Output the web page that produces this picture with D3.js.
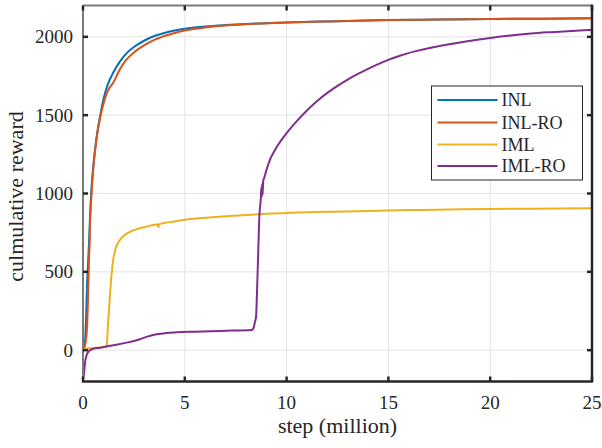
<!DOCTYPE html>
<html><head><meta charset="utf-8">
<script src="https://cdn.jsdelivr.net/npm/d3@7"></script>
<style>html,body{margin:0;padding:0;background:#fff;}svg{display:block;}</style>
</head><body>
<script>
// ---- data (step in million, cumulative reward) ----
const seriesNames = ["INL", "INL-RO", "IML", "IML-RO"];
const seriesColors = ["#0072BD", "#D95319", "#EDB120", "#7E2F8E"];
const xTicks = [0, 5, 10, 15, 20, 25];
const yTicks = [0, 500, 1000, 1500, 2000];

const inlX = [0,0.1,0.15,0.2,0.25,0.3,0.35,0.4,0.5,0.6,0.7,0.85,1.0,1.2,1.5,1.8,2.1,2.5,3,3.5,4,4.5,5,6,7,8,10,12.5,15,17.5,20,22.5,25];
const inlY = [0,60,200,420,560,700,870,1000,1170,1290,1390,1500,1600,1690,1775,1840,1890,1935,1975,2005,2025,2040,2052,2066,2075,2082,2092,2100,2107,2111,2114,2116,2118];

const inlroX = [0,0.1,0.2,0.25,0.3,0.33,0.34,0.4,0.5,0.6,0.7,0.85,1.0,1.2,1.5,1.8,2.1,2.5,3,3.5,4,4.5,5,6,7,8,10,12.5,15,17.5,20,22.5,25];
const inlroY = [0,30,150,350,600,700,780,950,1150,1280,1380,1490,1570,1650,1710,1790,1850,1900,1945,1980,2005,2025,2040,2060,2072,2080,2092,2100,2107,2111,2114,2116,2118];

const imlX = [0,0.1,0.3,0.6,1.0,1.15,1.18,1.2,1.3,1.4,1.5,1.6,1.8,2.0,2.3,2.7,3.1,3.5,3.65,3.7,3.75,4,4.5,5,6,7,8,9,10,12,14,16,18,20,22,25];
const imlY = [0,8,12,15,18,22,45,100,300,480,590,650,700,730,755,775,788,800,803,785,805,812,822,832,845,855,863,870,876,883,889,894,898,901,903,906];

const imlroX = [0,0.05,0.1,0.18,0.3,0.43,0.83,1.5,2.15,2.8,3.2,3.62,4.1,4.6,5.5,6.24,7.3,8.29,8.37,8.45,8.5,8.56,8.61,8.66,8.73,8.76,8.78,8.8,8.82,8.85,8.9,8.94,9.18,9.43,10,10.5,11,11.5,12,12.5,13,13.5,14,14.5,15,15.6,16.3,17.2,18,18.8,20,21,22,23,24,25];
const imlroY = [-190,-150,-80,-31,-5,6,16,32,48,70,88,101,110,114,118,121,125,129,140,182,214,429,640,852,960,1040,980,1060,990,1080,1100,1118,1214,1278,1385,1462,1530,1590,1642,1687,1727,1763,1796,1826,1853,1881,1907,1934,1953,1970,1993,2009,2021,2030,2038,2044];

const seriesX = [inlX, inlroX, imlX, imlroX];
const seriesY = [inlY, inlroY, imlY, imlroY];

// ---- layout ----
const W = 602, H = 448;
const L = 83, R = 592, T = 5.5, B = 381.5;
const font = "'Liberation Serif', 'Times New Roman', serif";

const svg = d3.select("body").append("svg").attr("width", W).attr("height", H)
  .style("background", "#fff");

const x = d3.scaleLinear().domain([0, 25]).range([L, R]);
const y = d3.scaleLinear().domain([-200, 2200]).range([B, T]);

// grid
const grid = svg.append("g").attr("stroke", "#e3e3e3").attr("stroke-width", 1);
xTicks.forEach(t => grid.append("line").attr("x1", x(t)).attr("x2", x(t)).attr("y1", T).attr("y2", B));
yTicks.forEach(t => grid.append("line").attr("y1", y(t)).attr("y2", y(t)).attr("x1", L).attr("x2", R));

// clip
svg.append("clipPath").attr("id", "clip").append("rect")
  .attr("x", L).attr("y", T).attr("width", R - L).attr("height", B - T);

const line = d3.line().x(d => x(d[0])).y(d => y(d[1])).curve(d3.curveMonotoneX);
const gLines = svg.append("g").attr("clip-path", "url(#clip)");
seriesNames.forEach((n, i) => {
  const pts = seriesX[i].map((v, j) => [v, seriesY[i][j]]);
  gLines.append("path").datum(pts).attr("d", line)
    .attr("fill", "none").attr("stroke", seriesColors[i]).attr("stroke-width", 2)
    .attr("stroke-linejoin", "round");
});

// frame
svg.append("line").attr("x1", L).attr("x2", L).attr("y1", T).attr("y2", B).attr("stroke", "#7a7a7a").attr("stroke-width", 2);
svg.append("line").attr("x1", L).attr("x2", R).attr("y1", T).attr("y2", T).attr("stroke", "#7a7a7a").attr("stroke-width", 2);
svg.append("line").attr("x1", L - 1).attr("x2", R + 1).attr("y1", B).attr("y2", B).attr("stroke", "#262626").attr("stroke-width", 2.5);
svg.append("line").attr("x1", R).attr("x2", R).attr("y1", T - 1).attr("y2", B).attr("stroke", "#262626").attr("stroke-width", 2.5);

// ticks (inward) on all sides
const tk = svg.append("g").attr("stroke", "#262626").attr("stroke-width", 2.5);
xTicks.forEach(t => {
  tk.append("line").attr("x1", x(t)).attr("x2", x(t)).attr("y1", B).attr("y2", B - 5);
  tk.append("line").attr("x1", x(t)).attr("x2", x(t)).attr("y1", T).attr("y2", T + 5);
});
yTicks.forEach(t => {
  tk.append("line").attr("x1", L).attr("x2", L + 5).attr("y1", y(t)).attr("y2", y(t));
  tk.append("line").attr("x1", R).attr("x2", R - 5).attr("y1", y(t)).attr("y2", y(t));
});

// tick labels
const tl = svg.append("g").attr("font-family", font).attr("font-size", 19).attr("fill", "#262626");
xTicks.forEach(t => tl.append("text").attr("x", x(t)).attr("y", 408.5).attr("text-anchor", "middle").text(t));
yTicks.forEach(t => tl.append("text").attr("x", 73).attr("y", y(t) + 6.5).attr("text-anchor", "end").text(t));

// axis labels
svg.append("text").attr("x", (L + R) / 2).attr("y", 433).attr("text-anchor", "middle")
  .attr("font-family", font).attr("font-size", 22).attr("fill", "#262626").text("step (million)");
svg.append("text").attr("transform", `translate(23,${(T + B) / 2 + 3}) rotate(-90)`).attr("text-anchor", "middle")
  .attr("font-family", font).attr("font-size", 22).attr("fill", "#262626").text("culmulative reward");

// legend
const lg = svg.append("g");
lg.append("rect").attr("x", 431.5).attr("y", 86).attr("width", 151).attr("height", 94)
  .attr("fill", "#fff").attr("stroke", "#262626").attr("stroke-width", 1);
const ly = [100, 122.5, 144.5, 166];
seriesNames.forEach((n, i) => {
  lg.append("line").attr("x1", 437.5).attr("x2", 497.5).attr("y1", ly[i]).attr("y2", ly[i])
    .attr("stroke", seriesColors[i]).attr("stroke-width", 2);
  lg.append("text").attr("x", 501.5).attr("y", ly[i] + 6.2).attr("font-family", font)
    .attr("font-size", 18).attr("fill", "#262626").text(n);
});
</script>
</body></html>
